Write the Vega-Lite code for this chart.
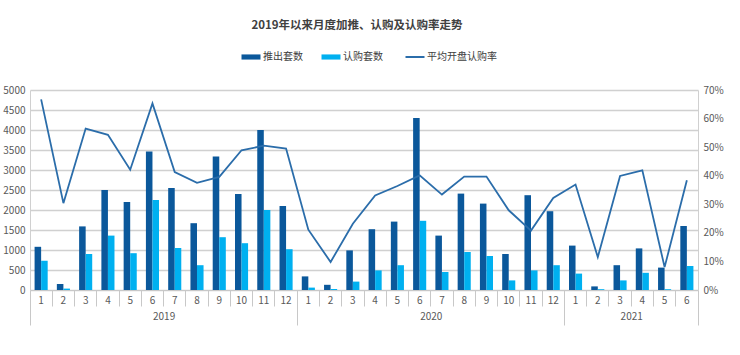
{
  "$schema": "https://vega.github.io/schema/vega-lite/v6.json",
  "width": 668,
  "height": 200,
  "autosize": {"type": "none"},
  "padding": {"left": 30, "top": 90, "right": 42, "bottom": 65},
  "background": "white",
  "config": {
    "font": "Noto Sans CJK SC",
    "view": {"stroke": null},
    "axis": {"labelFont": "Noto Sans CJK SC", "labelColor": "#595959", "labelFontSize": 10}
  },
  "title": {
    "text": "2019年以来月度加推、认购及认购率走势",
    "anchor": "middle",
    "frame": "group",
    "fontSize": 11.5,
    "fontWeight": "bold",
    "font": "Noto Sans CJK SC",
    "color": "#404040",
    "baseline": "bottom",
    "offset": 10,
    "dx": -7
  },
  "data": {
    "values": [
      {"key": "2019-1", "推出套数": 1080, "认购套数": 730, "rate": 0.667},
      {"key": "2019-2", "推出套数": 150, "认购套数": 35, "rate": 0.304},
      {"key": "2019-3", "推出套数": 1590, "认购套数": 900, "rate": 0.565},
      {"key": "2019-4", "推出套数": 2500, "认购套数": 1360, "rate": 0.543},
      {"key": "2019-5", "推出套数": 2200, "认购套数": 920, "rate": 0.421},
      {"key": "2019-6", "推出套数": 3460, "认购套数": 2250, "rate": 0.653},
      {"key": "2019-7", "推出套数": 2550, "认购套数": 1050, "rate": 0.413},
      {"key": "2019-8", "推出套数": 1670, "认购套数": 620, "rate": 0.375},
      {"key": "2019-9", "推出套数": 3340, "认购套数": 1320, "rate": 0.396},
      {"key": "2019-10", "推出套数": 2400, "认购套数": 1170, "rate": 0.489},
      {"key": "2019-11", "推出套数": 4000, "认购套数": 2000, "rate": 0.505},
      {"key": "2019-12", "推出套数": 2100, "认购套数": 1020, "rate": 0.495},
      {"key": "2020-1", "推出套数": 340, "认购套数": 60, "rate": 0.211},
      {"key": "2020-2", "推出套数": 130, "认购套数": 25, "rate": 0.098},
      {"key": "2020-3", "推出套数": 990, "认购套数": 210, "rate": 0.232},
      {"key": "2020-4", "推出套数": 1520, "认购套数": 490, "rate": 0.331},
      {"key": "2020-5", "推出套数": 1710, "认购套数": 620, "rate": 0.364},
      {"key": "2020-6", "推出套数": 4300, "认购套数": 1730, "rate": 0.401},
      {"key": "2020-7", "推出套数": 1360, "认购套数": 450, "rate": 0.334},
      {"key": "2020-8", "推出套数": 2410, "认购套数": 950, "rate": 0.397},
      {"key": "2020-9", "推出套数": 2160, "认购套数": 850, "rate": 0.397},
      {"key": "2020-10", "推出套数": 900, "认购套数": 240, "rate": 0.279},
      {"key": "2020-11", "推出套数": 2370, "认购套数": 490, "rate": 0.208},
      {"key": "2020-12", "推出套数": 1970, "认购套数": 620, "rate": 0.322},
      {"key": "2021-1", "推出套数": 1110, "认购套数": 410, "rate": 0.369},
      {"key": "2021-2", "推出套数": 90, "认购套数": 20, "rate": 0.115},
      {"key": "2021-3", "推出套数": 620, "认购套数": 240, "rate": 0.399},
      {"key": "2021-4", "推出套数": 1040, "认购套数": 430, "rate": 0.419},
      {"key": "2021-5", "推出套数": 560, "认购套数": 20, "rate": 0.080},
      {"key": "2021-6", "推出套数": 1600, "认购套数": 600, "rate": 0.384}
    ]
  },
  "layer": [
    {
      "transform": [{"fold": ["推出套数", "认购套数"], "as": ["series", "value"]}],
      "mark": {"type": "bar"},
      "encoding": {
        "x": {
          "field": "key", "type": "nominal", "sort": null,
          "scale": {"paddingInner": 0, "paddingOuter": 0},
          "axis": {
            "orient": "bottom", "title": null, "labelAngle": 0,
            "labelExpr": "split(datum.value, '-')[1]",
            "bandPosition": 0, "ticks": true, "tickSize": 16, "tickColor": "#c8c8c8",
            "labelPadding": -11, "domainColor": "#c8c8c8", "grid": false
          }
        },
        "xOffset": {"field": "series", "type": "nominal", "sort": ["推出套数", "认购套数"], "scale": {"paddingInner": 0, "paddingOuter": 0.7}},
        "y": {
          "field": "value", "type": "quantitative",
          "scale": {"domain": [0, 5000], "nice": false},
          "axis": {
            "orient": "left", "title": null, "format": "d", "values": [0, 500, 1000, 1500, 2000, 2500, 3000, 3500, 4000, 4500, 5000],
            "ticks": false, "labelPadding": 5, "grid": true, "gridColor": "#d0d0d0", "gridWidth": 1.5,
            "domain": true, "domainColor": "#d0d0d0"
          }
        },
        "color": {
          "field": "series", "type": "nominal",
          "scale": {"domain": ["推出套数", "认购套数", "平均开盘认购率"], "range": ["#0B589B", "#00B0F0", "#2B6DAA"]},
          "legend": {
            "orient": "none", "direction": "horizontal", "legendX": 216, "legendY": -38,
            "title": null, "symbolSize": 361, "labelFontSize": 10, "labelColor": "#404040",
            "labelFont": "Noto Sans CJK SC", "labelOffset": 7, "columnPadding": 18, "labelLimit": 200,
            "encode": {
              "symbols": {
                "update": {
                  "shape": {"signal": "datum.value === '平均开盘认购率' ? 'stroke' : 'M-1,-0.27H1V0.27H-1Z'"},
                  "fill": {"signal": "datum.value === '平均开盘认购率' ? 'transparent' : scale('color', datum.value)"},
                  "stroke": {"signal": "scale('color', datum.value)"},
                  "strokeWidth": {"signal": "datum.value === '平均开盘认购率' ? 2 : 0"},
                  "opacity": {"value": 1}
                }
              }
            }
          }
        }
      }
    },
    {
      "mark": {"type": "line", "strokeWidth": 1.8},
      "encoding": {
        "x": {"field": "key", "type": "nominal", "sort": null, "scale": {"paddingInner": 0, "paddingOuter": 0}, "axis": null},
        "y": {
          "field": "rate", "type": "quantitative",
          "scale": {"domain": [0, 0.7], "nice": false},
          "axis": {
            "orient": "right", "title": null, "format": ".0%", "values": [0, 0.1, 0.2, 0.3, 0.4, 0.5, 0.6, 0.7],
            "ticks": false, "labelPadding": 5, "grid": false, "domain": true, "domainColor": "#d0d0d0"
          }
        },
        "color": {"datum": "平均开盘认购率"}
      }
    },
    {
      "data": {"values": [{"p": 0}, {"p": 12}, {"p": 24}, {"p": 30}]},
      "mark": {"type": "point", "opacity": 0},
      "encoding": {
        "x": {
          "field": "p", "type": "quantitative", "scale": {"domain": [0, 30], "nice": false, "zero": false},
          "axis": {"orient": "bottom", "title": null, "values": [0, 12, 24, 30], "labels": false, "domain": false, "grid": false, "ticks": true, "tickSize": 35, "tickColor": "#c8c8c8"}
        }
      }
    },
    {
      "data": {"values": [{"p": 6}, {"p": 18}, {"p": 27}]},
      "mark": {"type": "point", "opacity": 0},
      "encoding": {
        "x": {
          "field": "p", "type": "quantitative", "scale": {"domain": [0, 30], "nice": false, "zero": false},
          "axis": {"orient": "bottom", "title": null, "values": [6, 18, 27], "labelExpr": "datum.value == 6 ? '2019' : datum.value == 18 ? '2020' : '2021'", "domain": false, "grid": false, "ticks": false, "labelPadding": 21}
        }
      }
    }
  ],
  "resolve": {"scale": {"x": "independent", "y": "independent"}}
}
